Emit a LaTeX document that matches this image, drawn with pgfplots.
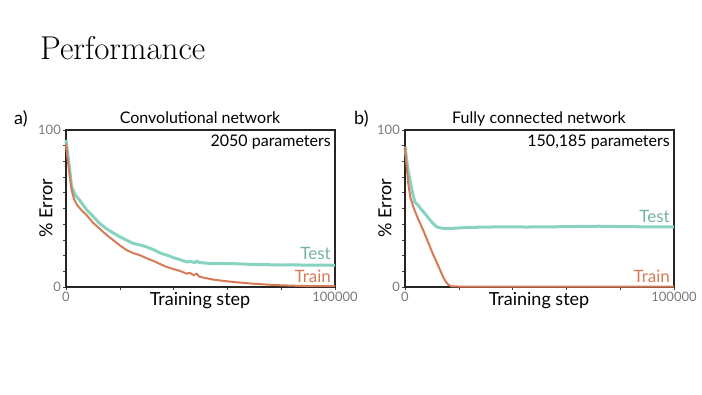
\documentclass[border=0pt]{standalone}
\usepackage{pgfplots}
\pgfplotsset{compat=1.18}
\usepackage{fontspec}
\newfontfamily\chartfont{Lato}
\definecolor{testc}{HTML}{88D3BF}
\definecolor{trainc}{HTML}{D67A58}
\definecolor{tickc}{HTML}{7A7A7A}
\begin{document}
\begin{tikzpicture}
\path[use as bounding box] (0pt,0pt) rectangle (702pt,395pt);
\node[anchor=base west, inner sep=0pt, font=\fontsize{33}{36}\selectfont] at (40pt,335pt) {Performance};

\pgfplotsset{panel/.style={
  scale only axis, width=269pt, height=157pt,
  anchor=south west,
  xmin=0, xmax=100000, ymin=0, ymax=100,
  scaled x ticks=false, scaled y ticks=false,
  xtick={0,100000}, xticklabels={0,100000},
  ytick={0,100}, yticklabels={0,100},
  minor xtick={20000,40000,60000,80000},
  minor ytick={10,20,30,40,50,60,70,80,90},
  tick pos=left, tick align=outside,
  major tick length=3pt, minor tick length=3pt,
  axis line style={black!85, line width=1.2pt},
  tick style={black!75, line width=0.6pt},
  xticklabel style={inner sep=2pt},
  yticklabel style={inner sep=2pt},
  every tick label/.append style={font=\chartfont\fontsize{13}{14}\selectfont, text=tickc},
  clip=false,
}}

\begin{axis}[panel, at={(66pt,108pt)}]
\addplot[testc, line width=3pt, line join=round] coordinates {
(0,93.6) (1000,80) (2100,64) (3500,58.5) (5200,55) (7500,49.5) (10200,44.7) (12500,40.5) (15100,37) (17500,34.5) (20000,32) (22500,29.8) (25000,27.7) (27500,26.8) (30000,25.5) (32500,23.8) (35000,21.7) (37500,20.3) (40000,18.7) (42500,17.3) (44900,16) (46500,16.2) (48000,15.5) (48600,16.6) (49500,15.6) (52000,15.2) (54800,14.9) (58000,15) (62200,14.9) (66000,14.6) (69600,14.3) (75000,14.2) (79600,14) (85000,14.1) (90000,13.9) (95000,14) (100000,13.8)
};
\addplot[trainc, line width=2pt, line join=round] coordinates {
(0,91.5) (1000,76) (2100,61.7) (3000,56) (4200,52) (6000,48.5) (7700,45.7) (10000,41) (12600,37) (15000,33.3) (17600,29.8) (20000,26.5) (22600,23.4) (25000,21.6) (27500,20.2) (30000,18.3) (32500,16.6) (35000,14.6) (37400,12.8) (40000,11.4) (42400,10.2) (44900,8.5) (46000,9.0) (47500,7.5) (48600,8.6) (49500,6.6) (51000,6.0) (54800,4.7) (58000,4.0) (62200,3.2) (66000,2.6) (69600,2.1) (75000,1.5) (79600,1.1) (85000,0.8) (90000,0.6) (100000,0.5)
};
\end{axis}

\begin{axis}[panel, at={(405pt,108pt)}]
\addplot[testc, line width=3pt, line join=round] coordinates {
(0,89.4) (1000,76) (1850,68) (2800,60) (3700,54) (4900,52) (6000,49.5) (7400,46.8) (8700,44) (9900,41.5) (11700,38.3) (13500,37.5) (15400,37.2) (18000,37.4) (22800,37.9) (28000,38.1) (35200,38.3) (45000,38.2) (53700,38.3) (62000,38.5) (72200,38.7) (80000,38.5) (90700,38.3) (100000,38.3)
};
\addplot[trainc, line width=2pt, line join=round] coordinates {
(0,89) (1200,66) (2000,57) (3100,51) (4300,45.7) (5500,41) (6800,36) (8000,31) (9300,25.5) (10500,20.5) (11700,16) (13000,11) (14200,6.4) (15000,3.8) (16000,1.5) (17300,0.4) (20000,0.3) (100000,0.3)
};
\end{axis}

\begin{scope}[every node/.style={inner sep=0pt}]
% panel a texts
\node[anchor=base west, font=\chartfont\fontsize{18}{20}\selectfont] at (14pt,270pt) {a)};
\node[anchor=base, font=\chartfont\fontsize{16}{18}\selectfont] at (200pt,271pt) {Convolutional network};
\node[anchor=base east, font=\chartfont\fontsize{16}{18}\selectfont] at (331pt,248pt) {2050 parameters};
\node[rotate=90, font=\chartfont\fontsize{18}{20}\selectfont] at (46pt,187pt) {\% Error};
\node[font=\chartfont\fontsize{18}{20}\selectfont] at (200pt,94pt) {Training step};
\node[anchor=base east, text=testc!85!black, font=\chartfont\fontsize{17}{19}\selectfont] at (331pt,135pt) {Test};
\node[anchor=base east, text=trainc, font=\chartfont\fontsize{17}{19}\selectfont] at (331pt,112pt) {Train};
% panel b texts
\node[anchor=base west, font=\chartfont\fontsize{18}{20}\selectfont] at (354pt,270pt) {b)};
\node[anchor=base, font=\chartfont\fontsize{16}{18}\selectfont] at (539pt,271pt) {Fully connected network};
\node[anchor=base east, font=\chartfont\fontsize{16}{18}\selectfont] at (670pt,248pt) {150,185 parameters};
\node[rotate=90, font=\chartfont\fontsize{18}{20}\selectfont] at (385pt,187pt) {\% Error};
\node[font=\chartfont\fontsize{18}{20}\selectfont] at (539pt,94pt) {Training step};
\node[anchor=base east, text=testc!85!black, font=\chartfont\fontsize{17}{19}\selectfont] at (670pt,172pt) {Test};
\node[anchor=base east, text=trainc, font=\chartfont\fontsize{17}{19}\selectfont] at (670pt,112pt) {Train};
\end{scope}
\end{tikzpicture}
\end{document}
